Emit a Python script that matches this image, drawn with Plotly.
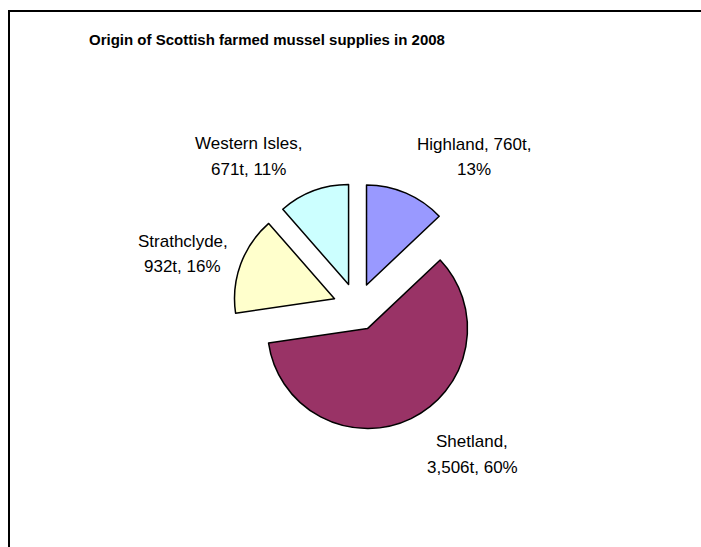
import plotly.graph_objects as go

# Scottish farmed mussel production by region, 2008 (tonnes)
regions = ["Highland", "Shetland", "Strathclyde", "Western Isles"]
tonnes = [760, 3506, 932, 671]
percent = [13, 60, 16, 11]
colors = ["#9999FF", "#993366", "#FFFFCC", "#CCFFFF"]

W, H = 701, 547

fig = go.Figure()

fig.add_trace(go.Pie(
    labels=regions,
    values=tonnes,
    sort=False,
    direction="clockwise",
    rotation=0,
    pull=[0.24, 0.24, 0.24, 0.24],
    marker=dict(colors=colors, line=dict(color="#000000", width=1.5)),
    textinfo="none",
    hoverinfo="label+value+percent",
    showlegend=False,
    domain=dict(x=[0.3324, 0.6862], y=[0.2121, 0.6654]),
))

# Data labels "Region, N t, P%", two lines each, placed around the pie
label_pos = {
    "Highland": (474, 144, 170),
    "Shetland": (472, 441, 467),
    "Strathclyde": (183, 241, 266),
    "Western Isles": (249, 143, 170),
}
line_split = {
    "Highland": ("{r}, {t:,}t,", "{p}%"),
    "Shetland": ("{r},", "{t:,}t, {p}%"),
    "Strathclyde": ("{r},", "{t:,}t, {p}%"),
    "Western Isles": ("{r},", "{t:,}t, {p}%"),
}
label_font = dict(family="Liberation Sans, Arial", size=17, color="#000000")
for r, t, p in zip(regions, tonnes, percent):
    x, y1, y2 = label_pos[r]
    for fmt, y in zip(line_split[r], (y1, y2)):
        fig.add_annotation(
            x=x / W, y=1 - y / H, xref="paper", yref="paper",
            text=fmt.format(r=r, t=t, p=p), showarrow=False,
            xanchor="center", yanchor="middle", font=label_font,
        )

# Chart title
fig.add_annotation(
    x=267 / W, y=1 - 40 / H, xref="paper", yref="paper",
    text="<b>Origin of Scottish farmed mussel supplies in 2008</b>",
    showarrow=False, xanchor="center", yanchor="middle",
    font=dict(family="Liberation Sans, Arial", size=15, color="#000000"),
)

# Chart-area frame
fig.add_shape(
    type="rect", xref="paper", yref="paper",
    x0=9 / W, x1=1.2, y0=-0.2, y1=1 - 11 / H,
    line=dict(color="#000000", width=2), fillcolor="rgba(0,0,0,0)",
)

fig.update_layout(
    width=W, height=H,
    margin=dict(l=0, r=0, t=0, b=0),
    paper_bgcolor="#FFFFFF",
    plot_bgcolor="#FFFFFF",
)

fig.write_html("out.html")
